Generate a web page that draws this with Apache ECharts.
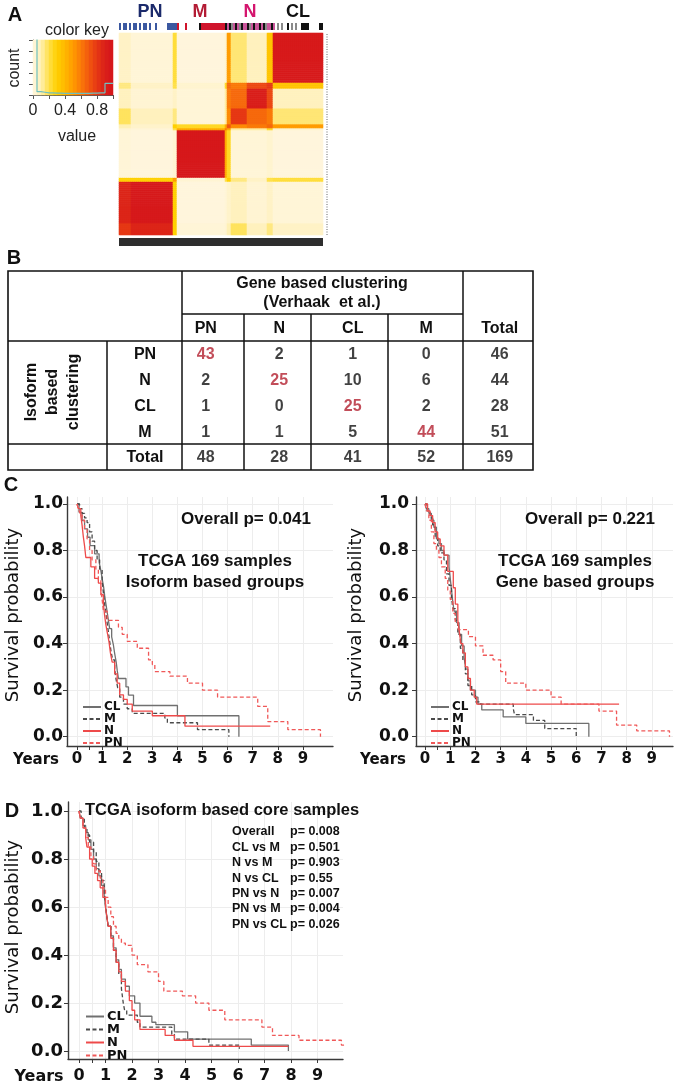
<!DOCTYPE html>
<html><head><meta charset="utf-8">
<script src="https://cdn.jsdelivr.net/npm/echarts@6.0.0/dist/echarts.min.js"></script>
<style>html,body{margin:0;padding:0;background:#fff}#c{width:683px;height:1087px}</style>
</head><body><div id="c"></div>
<script>
// ================= DATA =================
// Panel A: consensus matrix, block structure (ordered PN, M, N, CL along both axes)
const segNames = ['PN1','PN2','PN3','M1','M2','N1','N2','N3','N4','CL1'];
const segSizes = [6,21,2,24,1,2,8,10,3,25];
const consensus = [
 [0.80,0.88,0.30,0.02,0.03,0.10,0.18,0.08,0.15,0.06],
 [0.88,0.96,0.30,0.01,0.02,0.05,0.08,0.03,0.06,0.02],
 [0.30,0.30,0.50,0.03,0.20,0.30,0.15,0.06,0.20,0.22],
 [0.02,0.01,0.03,0.97,0.45,0.25,0.02,0.02,0.04,0.01],
 [0.03,0.02,0.20,0.45,0.60,0.45,0.12,0.12,0.25,0.04],
 [0.10,0.05,0.30,0.25,0.45,0.70,0.55,0.60,0.65,0.50],
 [0.18,0.08,0.15,0.02,0.12,0.55,0.80,0.65,0.60,0.16],
 [0.08,0.03,0.06,0.02,0.12,0.60,0.65,0.92,0.75,0.08],
 [0.15,0.06,0.20,0.04,0.25,0.65,0.60,0.75,0.80,0.35],
 [0.06,0.02,0.22,0.01,0.04,0.50,0.16,0.08,0.35,0.95]
];
// gene-based class of each sample column (B=PN, R=M, P=N, K/G=CL, .=none)
const annotationParts = ["B.BB.B.BB.B.BB.B..B.","....","BBBBB","R","...","R","......","K","RRRRRRRRRRRR",
  "KPKGPKPGKPPKGPKPPKPKGPPKP",".G.G..K.G.G..","KKKK",".....","KK"];
const groupLabels = ['PN','M','N','CL'];
// colour key
const keyBinCenters = [0.025,0.075,0.125,0.175,0.225,0.275,0.325,0.375,0.425,0.475,0.525,0.575,0.625,0.675,0.725,0.775,0.825,0.875,0.925,0.975];
const keyBinStarts  = [0,0.05,0.1,0.15,0.2,0.25,0.3,0.35,0.4,0.45,0.5,0.55,0.6,0.65,0.7,0.75,0.8,0.85,0.9,0.95,1.0];
const keyCounts     = [1.3,0.06,0.05,0.04,0.04,0.035,0.035,0.03,0.03,0.03,0.03,0.03,0.03,0.03,0.035,0.035,0.04,0.04,0.21,0.21,0.21];
const keyTickLabels = ['0','0.4','0.8'];

// Panel B: cross table
const tableCols = ['PN','N','CL','M','Total'];
const tableRows = ['PN','N','CL','M','Total'];
const tableCounts = [
 [43,2,1,0,46],
 [2,25,10,6,44],
 [1,0,25,2,28],
 [1,1,5,44,51],
 [48,28,41,52,169]
];

// Panel C/D: Kaplan-Meier curves [years, survival]
const isoCL = [[0,1],[0.08,0.964],[0.2,0.929],[0.3,0.893],[0.42,0.857],[0.52,0.821],[0.7,0.786],[0.88,0.75],[0.95,0.714],[1.0,0.679],[1.06,0.643],[1.1,0.607],[1.15,0.571],[1.2,0.536],[1.25,0.5],[1.3,0.464],[1.38,0.429],[1.45,0.393],[1.5,0.357],[1.56,0.321],[1.6,0.286],[1.65,0.25],[1.95,0.214],[2.05,0.179],[2.25,0.134],[4.0,0.09],[6.45,0.09],[6.45,0]];
const isoM  = [[0,1],[0.1,0.98],[0.2,0.96],[0.3,0.94],[0.4,0.92],[0.5,0.88],[0.6,0.84],[0.7,0.8],[0.8,0.76],[0.9,0.72],[1.0,0.67],[1.05,0.62],[1.1,0.57],[1.15,0.53],[1.2,0.49],[1.25,0.45],[1.3,0.41],[1.35,0.37],[1.42,0.33],[1.5,0.29],[1.55,0.25],[1.62,0.21],[1.7,0.17],[1.85,0.14],[2.0,0.12],[2.2,0.1],[3.5,0.08],[3.6,0.06],[4.8,0.03],[6.05,0.03],[6.05,0]];
const isoN  = [[0,1],[0.05,0.98],[0.15,0.95],[0.2,0.91],[0.25,0.86],[0.3,0.82],[0.35,0.77],[0.55,0.73],[0.7,0.68],[0.85,0.66],[0.95,0.61],[1.05,0.57],[1.1,0.52],[1.15,0.48],[1.2,0.45],[1.27,0.41],[1.33,0.36],[1.4,0.32],[1.5,0.27],[1.6,0.23],[1.7,0.18],[1.85,0.16],[2.0,0.14],[2.2,0.11],[3.0,0.09],[4.3,0.045],[7.7,0.045]];
const isoPN = [[0,1],[0.05,0.98],[0.12,0.96],[0.2,0.93],[0.3,0.89],[0.4,0.85],[0.5,0.8],[0.6,0.76],[0.75,0.72],[0.85,0.67],[0.95,0.63],[1.0,0.59],[1.05,0.54],[1.2,0.5],[1.65,0.47],[1.8,0.44],[2.0,0.41],[2.4,0.38],[2.85,0.33],[3.0,0.31],[3.1,0.28],[3.7,0.26],[4.4,0.23],[5.0,0.2],[5.6,0.17],[7.2,0.13],[7.6,0.065],[8.4,0.03],[9.7,0.03],[9.7,0]];

const geneCL = [[0,1],[0.05,0.98],[0.15,0.96],[0.25,0.93],[0.35,0.9],[0.45,0.85],[0.55,0.83],[0.65,0.8],[0.75,0.78],[0.95,0.73],[1.0,0.68],[1.05,0.63],[1.1,0.58],[1.15,0.54],[1.25,0.49],[1.35,0.44],[1.45,0.39],[1.55,0.34],[1.62,0.29],[1.7,0.24],[1.8,0.2],[2.0,0.17],[2.1,0.14],[2.25,0.115],[3.1,0.085],[4.0,0.057],[6.5,0.057],[6.5,0]];
const geneM  = [[0,1],[0.08,0.97],[0.2,0.94],[0.3,0.91],[0.4,0.86],[0.5,0.82],[0.6,0.79],[0.75,0.76],[0.85,0.7],[0.95,0.65],[1.05,0.6],[1.1,0.55],[1.2,0.5],[1.3,0.44],[1.4,0.38],[1.5,0.33],[1.6,0.27],[1.7,0.22],[1.85,0.18],[2.0,0.15],[2.2,0.14],[3.5,0.12],[3.55,0.095],[4.3,0.07],[4.75,0.035],[6.0,0.035],[6.0,0]];
const geneN  = [[0,1],[0.1,0.97],[0.2,0.95],[0.3,0.92],[0.4,0.88],[0.5,0.85],[0.6,0.82],[0.75,0.78],[0.9,0.71],[1.12,0.64],[1.2,0.57],[1.3,0.5],[1.35,0.46],[1.42,0.4],[1.5,0.36],[1.6,0.3],[1.7,0.25],[1.8,0.2],[1.95,0.17],[2.05,0.14],[7.7,0.14]];
const genePN = [[0,1],[0.05,0.97],[0.15,0.93],[0.25,0.88],[0.35,0.83],[0.45,0.8],[0.55,0.77],[0.65,0.73],[0.8,0.68],[0.9,0.63],[1.0,0.59],[1.1,0.53],[1.2,0.49],[1.32,0.46],[1.72,0.43],[2.0,0.39],[2.3,0.35],[2.7,0.33],[3.0,0.28],[3.2,0.23],[4.0,0.2],[5.0,0.17],[5.4,0.14],[6.9,0.11],[7.6,0.05],[8.4,0.025],[9.7,0.025],[9.7,0]];

const coreCL = [[0,1],[0.05,0.97],[0.15,0.94],[0.25,0.91],[0.35,0.88],[0.45,0.84],[0.55,0.8],[0.65,0.76],[0.75,0.73],[0.85,0.69],[0.95,0.65],[1.0,0.6],[1.05,0.56],[1.1,0.52],[1.2,0.48],[1.3,0.43],[1.4,0.38],[1.5,0.34],[1.6,0.3],[1.75,0.27],[1.9,0.23],[2.1,0.2],[2.3,0.145],[2.75,0.12],[2.9,0.11],[3.6,0.08],[4.1,0.05],[6.5,0.025],[7.9,0.025],[7.9,0]];
const coreM  = [[0,1],[0.08,0.97],[0.2,0.93],[0.3,0.9],[0.4,0.87],[0.55,0.83],[0.65,0.79],[0.75,0.75],[0.85,0.71],[0.95,0.66],[1.0,0.61],[1.05,0.56],[1.1,0.52],[1.2,0.47],[1.3,0.42],[1.4,0.37],[1.5,0.32],[1.6,0.26],[1.67,0.2],[1.72,0.17],[1.8,0.15],[2.2,0.12],[2.3,0.1],[3.5,0.07],[3.6,0.05],[4.9,0.025],[6.05,0.025],[6.05,0.01]];
const coreN  = [[0,1],[0.05,0.97],[0.15,0.93],[0.25,0.89],[0.3,0.85],[0.4,0.8],[0.5,0.77],[0.6,0.74],[0.7,0.71],[0.8,0.68],[0.9,0.64],[1.0,0.6],[1.05,0.56],[1.1,0.52],[1.2,0.47],[1.3,0.42],[1.4,0.37],[1.5,0.33],[1.6,0.29],[1.75,0.25],[1.9,0.21],[2.0,0.17],[2.1,0.13],[2.3,0.09],[3.25,0.065],[3.6,0.045],[4.3,0.02],[7.9,0.02]];
const corePN = [[0,1],[0.05,0.97],[0.15,0.93],[0.25,0.89],[0.35,0.85],[0.45,0.81],[0.55,0.78],[0.65,0.75],[0.8,0.72],[0.9,0.68],[1.0,0.64],[1.1,0.6],[1.2,0.56],[1.3,0.52],[1.4,0.49],[1.5,0.47],[1.6,0.45],[1.75,0.44],[2.0,0.4],[2.2,0.36],[2.6,0.33],[3.0,0.29],[3.2,0.25],[3.9,0.23],[4.4,0.2],[4.9,0.17],[5.5,0.13],[6.9,0.1],[7.3,0.065],[8.3,0.045],[9.9,0.025],[10.0,0.025]];

const xTickValues = [0,0.5,1,2,3,4,5,6,7,8,9];
const xTickLabels = [0,1,2,3,4,5,6,7,8,9];
const yTickValues = [0,0.2,0.4,0.6,0.8,1.0];
const coreStatsNames = ['Overall','CL vs M','N vs M','N vs CL','PN vs N','PN vs M','PN vs CL'];
const coreStatsP     = ['p= 0.008','p= 0.501','p= 0.903','p= 0.55','p= 0.007','p= 0.004','p= 0.026'];

// ================= BUILD =================
const AR = '"Liberation Sans", Arial, sans-serif';
const DJ = '"DejaVu Sans", sans-serif';
const segIdx = [];
segSizes.forEach((s,k)=>{ for(let i=0;i<s;i++) segIdx.push(k); });
const NS = segIdx.length;
const cells = segIdx.map((_,i)=>i);
const heatData = [];
for (let i=0;i<NS;i++) for (let j=0;j<NS;j++) heatData.push([i,j,consensus[segIdx[i]][segIdx[j]]]);
const annotation = annotationParts.join('');
const annColor = {B:'#3B58A0', R:'#D0142C', P:'#C9559A', K:'#111111', G:'#8a8a8a'};
const annData = cells.map(i=>{
  const c = annotation[i];
  return (c && annColor[c]) ? {value:1, itemStyle:{color:annColor[c]}} : '-';
});

const colCL='#707070', colM='#4a4a4a', colN='#EE4A4A', colPN='#F05858';
const dash=[4,2.5];
function km(name, data, gi, color, dashed) {
  return {type:'line', name, data, xAxisIndex:gi, yAxisIndex:gi, step:'end', symbol:'none', silent:true,
    lineStyle:{color, width:1.3, type: dashed? dash : 'solid'}, itemStyle:{color}};
}
function kmX(gi, min, max, fs, margin) {
  return {type:'value', gridIndex:gi, min, max,
    axisLine:{show:true, onZero:false, lineStyle:{color:'#3a3a3a', width:1.4}},
    axisTick:{show:true, length:4, customValues:xTickValues, lineStyle:{color:'#3a3a3a'}},
    axisLabel:{customValues:xTickLabels, fontFamily:DJ, fontWeight:'bold', fontSize:fs, color:'#111', margin},
    splitLine:{show:true, lineStyle:{color:'#ededed', width:1}}};
}
function kmY(gi, min, max, fs, margin) {
  return {type:'value', gridIndex:gi, min, max,
    axisLine:{show:true, onZero:false, lineStyle:{color:'#3a3a3a', width:1.4}},
    axisTick:{show:true, length:4, customValues:yTickValues, lineStyle:{color:'#3a3a3a'}},
    axisLabel:{customValues:yTickValues, formatter:v=>Number(v).toFixed(1), fontFamily:DJ, fontWeight:'bold', fontSize:fs, color:'#111', margin},
    splitLine:{show:true, lineStyle:{color:'#ededed', width:1}}};
}
function txt(text, x, y, size, opts) {
  opts = opts || {};
  return {type:'text', x, y, z:100, rotation: opts.rot || 0, silent:true,
    style:{text, fontSize:size, fontWeight: opts.weight || 'bold', fontFamily: opts.family || AR,
      fill: opts.color || '#111', align: opts.align || 'center', verticalAlign:'middle', lineHeight: opts.lh}};
}
function ln(x1,y1,x2,y2,w) { return {type:'line', z:100, silent:true, shape:{x1,y1,x2,y2}, style:{stroke:'#111', lineWidth:w||1.5}}; }

const tableData = [];
tableRows.forEach((r,ri)=>tableCols.forEach((c,ci)=>{
  tableData.push({value:[ci, ri, tableCounts[ri][ci]], label:{color: (ri===ci && ri<4) ? '#B3202F' : '#111'}});
}));

const legendBase = (left, top, fs, lh) => ({left, top, orient:'vertical', itemWidth:18, itemHeight:8, itemGap:0,
  data:['CL','M','N','PN'], selectedMode:false, itemStyle:{opacity:0, borderWidth:0},
  textStyle:{fontFamily:DJ, fontWeight:'bold', fontSize:fs, color:'#111', lineHeight:lh, padding:[0,0,0,-2]}});

const option = {
  animation:false,
  backgroundColor:'#ffffff',
  grid:[
    {left:119, top:33, width:204, height:202},      //0 heatmap
    {left:119, top:23, width:204, height:7},        //1 annotation
    {left:33, top:40, width:80, height:55},         //2 key colours
    {left:33, top:40, width:80, height:55},         //3 key axes
    {left:169, top:342, width:367.5, height:128.75},//4 table
    {left:67, top:497, width:266, height:249},      //5 C left
    {left:416, top:497, width:257, height:249},     //6 C right
    {left:68, top:802, width:275, height:257}       //7 D
  ],
  xAxis:[
    {type:'category', gridIndex:0, data:cells, show:false},
    {type:'category', gridIndex:1, data:cells, show:false},
    {type:'category', gridIndex:2, data:keyBinCenters, show:false},
    {type:'value', gridIndex:3, min:0, max:1, interval:0.2,
      axisLine:{show:true, lineStyle:{color:'#555'}}, axisTick:{show:true, length:4, lineStyle:{color:'#555'}},
      axisLabel:{fontFamily:AR, fontWeight:'normal', fontSize:16, color:'#222', margin:8,
        formatter:v=>{ const s=(Math.round(v*10)/10).toString(); return keyTickLabels.indexOf(s)>=0 ? s : ''; }},
      splitLine:{show:false}},
    {type:'category', gridIndex:4, data:tableCols, position:'top',
      axisLine:{show:false}, axisTick:{show:false},
      axisLabel:{fontFamily:AR, fontWeight:'bold', fontSize:16, color:'#111', margin:13, verticalAlign:'middle'}},
    kmX(5, -0.4, 10.2, 15, 6),
    kmX(6, -0.36, 9.84, 15, 6),
    kmX(7, -0.415, 9.96, 16, 9)
  ],
  yAxis:[
    {type:'category', gridIndex:0, data:cells, show:false},
    {type:'value', gridIndex:1, min:0, max:1, show:false},
    {type:'category', gridIndex:2, data:['k'], show:false},
    {type:'value', gridIndex:3, min:0, max:1, interval:0.2,
      axisLine:{show:true, lineStyle:{color:'#555'}}, axisTick:{show:true, length:4, lineStyle:{color:'#555'}},
      axisLabel:{show:false}, splitLine:{show:false}},
    {type:'category', gridIndex:4, data:tableRows, inverse:true,
      axisLine:{show:false}, axisTick:{show:false},
      axisLabel:{fontFamily:AR, fontWeight:'bold', fontSize:16, color:'#111', margin:24, align:'center'}},
    kmY(5, -0.04, 1.03, 17, 4),
    kmY(6, -0.04, 1.03, 17, 7),
    kmY(7, -0.033, 1.0375, 18, 5)
  ],
  visualMap:[{type:'continuous', show:false, min:0, max:1, seriesIndex:[0,2], dimension:2,
    inRange:{color:['#FFF6E0','#FFF0B5','#FFE04A','#FFD000','#FFB800','#FF9C00','#FA7A08','#F2580F','#E63814','#DA2019','#D4141C']}}],
  legend:[
    legendBase(77, 696, 12, 11),
    legendBase(425, 696, 12, 11),
    legendBase(80, 1005, 13, 12.7)
  ],
  series:[
    {type:'heatmap', xAxisIndex:0, yAxisIndex:0, data:heatData, progressive:0, silent:true, itemStyle:{borderWidth:0}},
    {type:'bar', xAxisIndex:1, yAxisIndex:1, data:annData, barWidth:'100%', silent:true},
    {type:'heatmap', xAxisIndex:2, yAxisIndex:2, data:keyBinCenters.map((v,i)=>[i,0,v]), silent:true},
    {type:'line', xAxisIndex:3, yAxisIndex:3, data:keyBinStarts.map((v,i)=>[v,keyCounts[i]]), step:'end', symbol:'none', silent:true,
      lineStyle:{color:'#6FC0C0', width:1.2}},
    {type:'scatter', xAxisIndex:4, yAxisIndex:4, data:tableData, symbolSize:1, silent:true,
      itemStyle:{color:'rgba(0,0,0,0)'},
      label:{show:true, position:'inside', formatter:p=>String(p.value[2]), fontFamily:AR, fontWeight:'bold', fontSize:16}},
    km('CL', isoCL, 5, colCL, false), km('M', isoM, 5, colM, true), km('N', isoN, 5, colN, false), km('PN', isoPN, 5, colPN, true),
    km('CL', geneCL, 6, colCL, false), km('M', geneM, 6, colM, true), km('N', geneN, 6, colN, false), km('PN', genePN, 6, colPN, true),
    km('CL', coreCL, 7, colCL, false), km('M', coreM, 7, colM, true), km('N', coreN, 7, colN, false), km('PN', corePN, 7, colPN, true)
  ],
  graphic:[]
};

const g = option.graphic;
// panel letters
g.push(txt('A', 15, 15, 20), txt('B', 14, 258, 20), txt('C', 11, 485, 20), txt('D', 12, 811, 20));
// panel A texts
g.push(txt('PN', 150, 12, 18, {color:'#1B2A6B'}), txt('M', 200, 12, 18, {color:'#B31B34'}),
       txt('N', 250, 12, 18, {color:'#D4156E'}), txt('CL', 298, 12, 18, {color:'#111'}));
g.push(txt('color key', 77, 31, 16, {weight:'normal', color:'#222'}));
g.push(txt('value', 77, 137, 16, {weight:'normal', color:'#222'}));
g.push(txt('count', 15, 68, 16, {weight:'normal', color:'#222', rot:Math.PI/2}));
g.push({type:'rect', z:100, silent:true, shape:{x:119, y:238, width:204, height:8}, style:{fill:'#2e2e2e'}});
g.push({type:'line', z:100, silent:true, shape:{x1:327, y1:34, x2:327, y2:235}, style:{stroke:'#666', lineWidth:1, lineDash:[1,1.5]}});
// panel B table lines
g.push({type:'rect', z:100, silent:true, shape:{x:8, y:271, width:525, height:199}, style:{fill:'none', stroke:'#111', lineWidth:1.6}});
g.push(ln(182,314,463,314), ln(8,341,533,341), ln(8,444,533,444),
       ln(107,341,107,470), ln(182,271,182,470), ln(244,314,244,470), ln(311,314,311,470), ln(388,314,388,470), ln(463,271,463,470));
g.push(txt('Gene based clustering\n(Verhaak  et al.)', 322, 293, 16, {lh:19}));
g.push(txt('Isoform\nbased\nclustering', 53, 392, 16, {rot:Math.PI/2, lh:21}));
// panel C texts
g.push(txt('Overall p= 0.041', 246, 519, 17), txt('TCGA 169 samples\nIsoform based groups', 215, 572, 17, {lh:21}));
g.push(txt('Overall p= 0.221', 590, 519, 17), txt('TCGA 169 samples\nGene based groups', 575, 572, 17, {lh:21}));
g.push(txt('Years', 36, 760, 15, {family:DJ}), txt('Years', 383, 760, 15, {family:DJ}), txt('Years', 39, 1077, 16, {family:DJ}));
g.push(txt('Survival probability', 13, 615, 18, {family:DJ, weight:'normal', rot:Math.PI/2}),
       txt('Survival probability', 356, 615, 18, {family:DJ, weight:'normal', rot:Math.PI/2}),
       txt('Survival probability', 13, 927, 18, {family:DJ, weight:'normal', rot:Math.PI/2}));
// panel D texts
g.push(txt('TCGA isoform based core samples', 85, 810, 16.5, {align:'left'}));
coreStatsNames.forEach((s,i)=>{
  g.push(txt(s, 232, 832 + i*15.4, 12.5, {align:'left'}));
  g.push(txt(coreStatsP[i], 290, 832 + i*15.4, 12.5, {align:'left'}));
});

const chart = echarts.init(document.getElementById('c'), null, {renderer:'canvas'});
chart.setOption(option);
</script></body></html>
